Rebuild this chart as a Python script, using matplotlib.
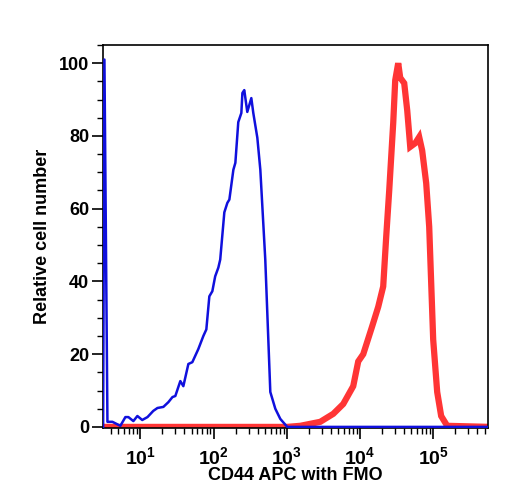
import matplotlib
matplotlib.use("Agg")
import matplotlib.pyplot as plt
from matplotlib.ticker import LogLocator, MultipleLocator, NullFormatter

plt.rcParams['font.family'] = ['Liberation Sans', 'DejaVu Sans']
plt.rcParams['font.weight'] = 'bold'
plt.rcParams['mathtext.fontset'] = 'custom'
plt.rcParams['mathtext.rm'] = 'Liberation Sans:bold'
plt.rcParams['mathtext.bf'] = 'Liberation Sans:bold'
plt.rcParams['mathtext.default'] = 'bf'

# CD44 APC sample (blue)
cd44_x = [3.1, 3.23, 3.55, 4.15, 5.33, 6.24, 6.86, 8.02, 9.1, 10.6, 12.5, 15.0, 17.1,
          20.6, 24.1, 27.4, 30.0, 35.1, 38.6, 45.2, 51.2, 61.8, 72.4, 79.5, 87.4, 96,
          105, 116, 123, 140, 154, 164, 186, 198, 217, 239, 247, 262, 288, 327, 348,
          395, 434, 507, 594, 695, 813, 1012, 6e5]
cd44_y = [0, 101, 1.4, 1.4, 0.3, 2.7, 2.7, 1.6, 3, 1.9, 2.7, 4.4, 5.2,
          5.5, 6.8, 8.2, 8.5, 12.6, 11.2, 17.3, 17.8, 21.4, 25, 26.8, 35.9, 37.3,
          41.4, 43.8, 46, 59, 61.6, 62.5, 70.7, 72.6, 83.8, 86.3, 91.8, 92.6, 86.6, 90.4, 86.3,
          79.5, 70.7, 46, 9.6, 5, 2.2, 0, 0]

# FMO control (red)
fmo_x = [3.1, 1000, 1524, 2856, 4300, 5880, 8050, 9420, 11030, 14620, 17650, 20650,
         22700, 24950, 28300, 30130, 33100, 35250, 39980, 43950, 48300, 56500, 64000,
         70300, 79800, 87700, 99400, 112700, 127700, 154300, 6e5]
fmo_y = [0, 0, 0.3, 1.4, 3.6, 6.3, 11.2, 18, 20, 27.7, 33, 38.6,
         52.3, 65, 83.6, 95.3, 100, 96, 94.5, 87, 77, 78, 79.7,
         76, 67, 55, 24, 9.6, 3, 0.3, 0]

fig = plt.figure(figsize=(5.08, 5.0), dpi=100)
ax = fig.add_axes([0.203, 0.144, 0.758, 0.766])

ax.plot(fmo_x, fmo_y, color='#ff3535', lw=4.5, solid_joinstyle='miter', zorder=2)
ax.plot(cd44_x, cd44_y, color='#1010dd', lw=1.8, zorder=3)

ax.set_xscale('log')
ax.set_xlim(3.1, 5.6e5)
ax.set_ylim(-0.3, 105)
ax.xaxis.set_major_locator(LogLocator(base=10, subs=(1.0,), numticks=10))
ax.xaxis.set_minor_locator(LogLocator(base=10, subs=range(2, 10), numticks=20))
ax.xaxis.set_minor_formatter(NullFormatter())
ax.yaxis.set_major_locator(MultipleLocator(20))
ax.yaxis.set_minor_locator(MultipleLocator(5))

ax.tick_params(which='major', direction='out', length=8, width=1.2, labelsize=13, pad=2)
ax.tick_params(which='minor', direction='out', length=4, width=1)
ax.tick_params(axis='x', which='major', labelsize=14, pad=5)
for s in ax.spines.values():
    s.set_linewidth(1.2)

ax.set_xlabel('CD44 APC with FMO', fontsize=13, fontweight='bold', labelpad=-1)
ax.set_ylabel('Relative cell number', fontsize=13, fontweight='bold', labelpad=6)

fig.savefig('out.png', dpi=100)
